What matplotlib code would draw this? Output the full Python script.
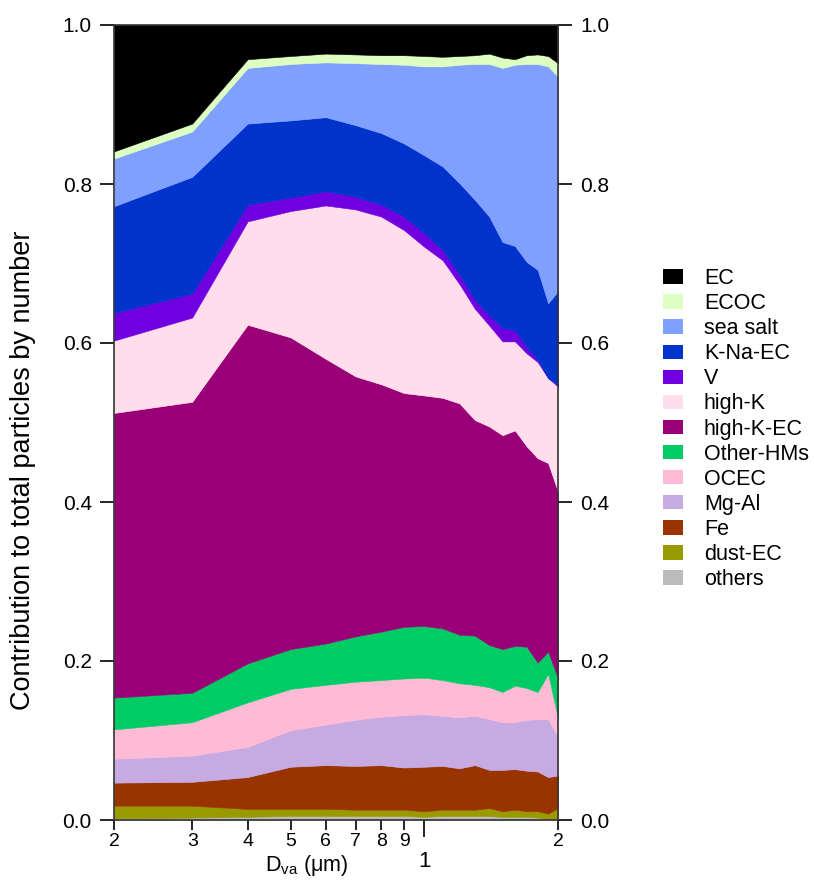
import numpy as np
import matplotlib
matplotlib.use("Agg")
import matplotlib.pyplot as plt
from matplotlib.patches import Patch
from matplotlib.ticker import FixedLocator, FixedFormatter

plt.rcParams['font.family'] = ['Liberation Sans', 'DejaVu Sans']
plt.rcParams['mathtext.fontset'] = 'custom'
plt.rcParams['mathtext.rm'] = 'Liberation Sans'

# particle size bins (vacuum aerodynamic diameter, um)
dva = [0.2, 0.3, 0.4, 0.5, 0.6, 0.7, 0.8, 0.9, 1.0, 1.1,
       1.2, 1.3, 1.4, 1.5, 1.6, 1.7, 1.8, 1.9, 2.0]

# number fraction of each particle class per size bin
others = [0.002, 0.003, 0.004, 0.005, 0.005, 0.005, 0.005, 0.005, 0.004, 0.005,
          0.005, 0.005, 0.005, 0.004, 0.004, 0.004, 0.003, 0.001, 0.001]
dust_ec = [0.016, 0.015, 0.010, 0.009, 0.009, 0.008, 0.008, 0.008, 0.007, 0.008,
           0.008, 0.008, 0.010, 0.007, 0.009, 0.007, 0.008, 0.007, 0.014]
fe = [0.029, 0.030, 0.040, 0.053, 0.055, 0.055, 0.056, 0.053, 0.056, 0.055,
      0.052, 0.056, 0.048, 0.052, 0.051, 0.051, 0.050, 0.046, 0.041]
mg_al = [0.030, 0.033, 0.038, 0.046, 0.051, 0.058, 0.061, 0.066, 0.066, 0.063,
         0.064, 0.062, 0.064, 0.060, 0.059, 0.064, 0.066, 0.073, 0.049]
ocec = [0.037, 0.042, 0.056, 0.052, 0.050, 0.048, 0.046, 0.046, 0.046, 0.045,
        0.043, 0.039, 0.040, 0.038, 0.046, 0.040, 0.034, 0.057, 0.023]
other_hms = [0.040, 0.037, 0.049, 0.050, 0.052, 0.057, 0.061, 0.065, 0.065, 0.065,
             0.061, 0.062, 0.053, 0.054, 0.050, 0.052, 0.037, 0.028, 0.050]
high_k_ec = [0.358, 0.366, 0.426, 0.392, 0.358, 0.327, 0.311, 0.294, 0.290, 0.290,
             0.291, 0.271, 0.275, 0.269, 0.271, 0.252, 0.257, 0.237, 0.235]
high_k = [0.091, 0.106, 0.130, 0.159, 0.193, 0.210, 0.211, 0.205, 0.187, 0.173,
          0.150, 0.140, 0.127, 0.118, 0.112, 0.117, 0.121, 0.107, 0.132]
v = [0.035, 0.030, 0.021, 0.017, 0.018, 0.016, 0.015, 0.017, 0.017, 0.013,
     0.012, 0.011, 0.013, 0.017, 0.014, 0.008, 0.003, 0.000, 0.003]
k_na_ec = [0.134, 0.147, 0.102, 0.097, 0.093, 0.090, 0.090, 0.092, 0.098, 0.105,
           0.115, 0.126, 0.124, 0.108, 0.106, 0.107, 0.113, 0.094, 0.117]
sea_salt = [0.060, 0.057, 0.070, 0.071, 0.069, 0.078, 0.087, 0.099, 0.112, 0.126,
            0.149, 0.171, 0.192, 0.219, 0.228, 0.249, 0.259, 0.298, 0.270]
ecoc = [0.009, 0.010, 0.011, 0.010, 0.011, 0.011, 0.011, 0.012, 0.013, 0.012,
        0.011, 0.011, 0.013, 0.013, 0.007, 0.011, 0.012, 0.013, 0.017]
ec = [0.160, 0.125, 0.044, 0.041, 0.038, 0.038, 0.039, 0.039, 0.040, 0.041,
      0.040, 0.039, 0.037, 0.042, 0.044, 0.039, 0.038, 0.040, 0.049]

labels = ['others', 'dust-EC', 'Fe', 'Mg-Al', 'OCEC', 'Other-HMs', 'high-K-EC',
          'high-K', 'V', 'K-Na-EC', 'sea salt', 'ECOC', 'EC']
series = [others, dust_ec, fe, mg_al, ocec, other_hms, high_k_ec,
          high_k, v, k_na_ec, sea_salt, ecoc, ec]
colors = ['#BBBBBB', '#999900', '#993300', '#C8AAE3', '#FFBBD6', '#00CC66', '#990077',
          '#FFDDEA', '#7000E0', '#0033CC', '#80A0FF', '#DDFFC2', '#000000']

fig = plt.figure(figsize=(8.14, 8.82), dpi=100)
ax = fig.add_axes([114 / 814, 62 / 882, 444 / 814, 795 / 882])

polys = ax.stackplot(dva, *series, colors=colors, linewidth=0)
for p, c in zip(polys, colors):
    p.set_edgecolor(c)
    p.set_linewidth(0.4)

ax.set_xscale('log')
ax.set_xlim(0.2, 2.0)
ax.set_ylim(0, 1.0)

# x axis: labelled minor ticks, long tick for 1
minor_pos = [0.2, 0.3, 0.4, 0.5, 0.6, 0.7, 0.8, 0.9, 2.0]
minor_lab = ['2', '3', '4', '5', '6', '7', '8', '9', '2']
ax.xaxis.set_major_locator(FixedLocator([1.0]))
ax.xaxis.set_major_formatter(FixedFormatter(['1']))
ax.xaxis.set_minor_locator(FixedLocator(minor_pos))
ax.xaxis.set_minor_formatter(FixedFormatter(minor_lab))
ax.tick_params(axis='x', which='major', direction='out', length=12, width=1.2,
               labelsize=16, pad=10)
ax.tick_params(axis='x', which='minor', direction='out', length=7, width=1.2,
               labelsize=14, pad=2)

yt = [0.0, 0.2, 0.4, 0.6, 0.8, 1.0]
ax.set_yticks(yt)
ax.set_yticklabels(['%.1f' % t for t in yt])
ax.tick_params(axis='y', which='major', direction='out', length=10, width=1.2,
               labelsize=15, pad=6, right=True, labelright=True)

for s in ax.spines.values():
    s.set_color('#333333')
    s.set_linewidth(1.2)

ax.set_ylabel('Contribution to total particles by number', fontsize=19.5)
ax.yaxis.set_label_coords(-0.176, 0.44)
ax.set_xlabel(r'D$_{\mathrm{va}}$ ($\mathrm{\mu}$m)', fontsize=15.5)
ax.xaxis.set_label_coords(0.435, -0.041)

handles = [Patch(facecolor=c, edgecolor='none') for c in colors[::-1]]
fig.legend(handles, labels[::-1], loc='upper left', bbox_to_anchor=(663 / 814, 1 - 268 / 882),
           frameon=False, fontsize=15.5, handlelength=0.95, handleheight=0.65,
           handletextpad=0.95, labelspacing=0.19, borderpad=0, borderaxespad=0)

fig.savefig('out.png', dpi=100)
